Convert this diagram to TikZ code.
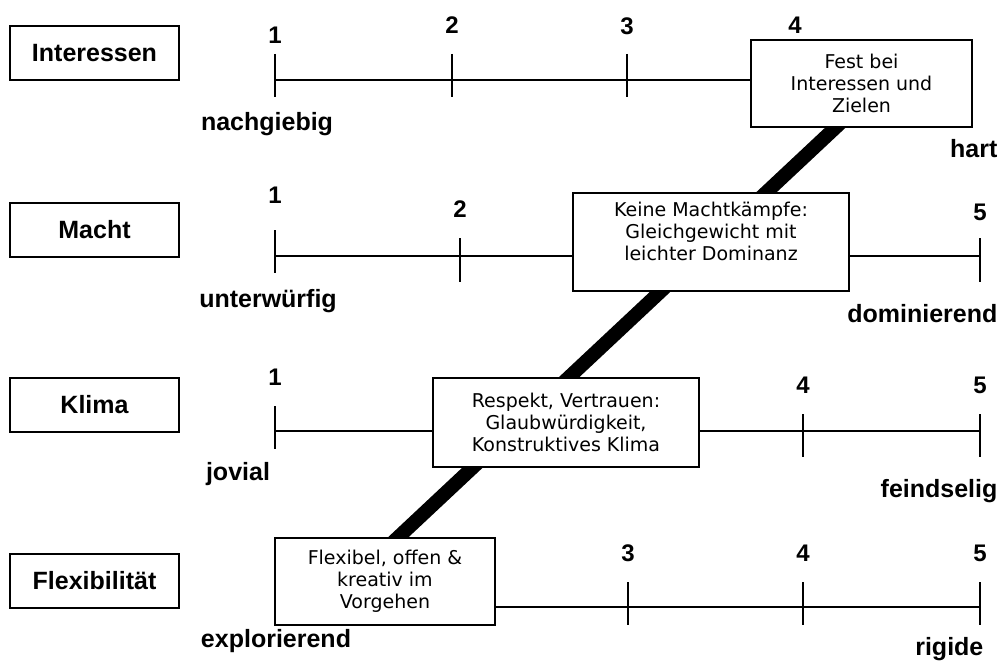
\documentclass[tikz,border=0pt]{standalone}
\usepackage{fontspec}
\setmainfont{Liberation Sans}
\newfontfamily\boxfont{DejaVu Sans}
\usetikzlibrary{backgrounds}
\begin{document}
\begin{tikzpicture}[x=1pt,y=-1pt,line width=2.6pt,
	cat/.style={draw,line width=1.4pt,minimum width=169pt,minimum height=54pt,font=\fontsize{25}{30}\selectfont\bfseries},
	note/.style={draw,fill=white,line width=2.6pt,align=center,inner sep=0pt,font=\boxfont\fontsize{19}{22}\selectfont},
	num/.style={font=\fontsize{24}{28}\selectfont\bfseries},
	pole/.style={font=\fontsize{25}{30}\selectfont\bfseries,anchor=base}]
	\useasboundingbox (0,0) rectangle (1008,661);
	% categories
	\node[cat] (interessen) at (94.5,53) {Interessen};
	\node[cat] (macht) at (94.5,230) {Macht};
	\node[cat] (klima) at (94.5,405) {Klima};
	\node[cat] (flexi) at (94.5,581) {Flexibilität};
	% boxes on the scales
	\node[note,minimum width=221pt,minimum height=87pt] (fest) at (861.5,83.5) {Fest bei\\Interessen und\\Zielen};
	\node[note,minimum width=276pt,minimum height=98pt,text depth=22pt] (keine) at (711,242) {Keine Machtkämpfe:\\Gleichgewicht mit\\leichter Dominanz};
	\node[note,minimum width=266pt,minimum height=89pt] (respekt) at (566,422.5) {Respekt, Vertrauen:\\Glaubwürdigkeit,\\Konstruktives Klima};
	\node[note,minimum width=220pt,minimum height=87pt] (flexibel) at (385,581.5) {Flexibel, offen \&\\kreativ im\\Vorgehen};
	\begin{scope}[on background layer]
		\draw[line width=14pt] ([xshift=21]fest.center) -- ([xshift=-34]flexibel.center);
	\end{scope}
	% Interessen
	\coordinate (i1) at (275,80); \coordinate (i2) at (452,80); \coordinate (i3) at (627,80);
	\draw (i1) -- (i1 -| fest.west);
	\foreach \c in {i1,i2,i3} \draw ([yshift=26]\c) -- ([yshift=-17]\c);
	\node[num] (ni1) at (275,35) {1};
	\node[num] (ni2) at (452,25) {2};
	\node[num] (ni3) at (627,26) {3};
	\node[num] (ni4) at (795,25) {4};
	\node[pole] (nachgiebig) at (267,130) {nachgiebig};
	\node[pole,anchor=base east] (hart) at (1002,157) {hart};
	% Macht
	\coordinate (m1) at (275,256); \coordinate (m2) at (460,256); \coordinate (m5) at (980,256);
	\draw (m1) -- (m1 -| keine.west);
	\draw (keine.east |- m1) -- (m5);
	\draw ([yshift=26]m1) -- ([yshift=-17]m1);
	\foreach \c in {m2,m5} \draw ([yshift=18]\c) -- ([yshift=-26]\c);
	\node[num] (nm1) at (275,195) {1};
	\node[num] (nm2) at (460,209) {2};
	\node[num] (nm5) at (980,212) {5};
	\node[pole] (unterwuerfig) at (268,307) {unterwürfig};
	\node[pole,anchor=base east] (dominierend) at (1002,322) {dominierend};
	% Klima
	\coordinate (k1) at (275,431); \coordinate (k4) at (803,431); \coordinate (k5) at (980,431);
	\draw (k1) -- (k1 -| respekt.west);
	\draw (respekt.east |- k1) -- (k5);
	\draw ([yshift=25]k1) -- ([yshift=-18]k1);
	\foreach \c in {k4,k5} \draw ([yshift=17]\c) -- ([yshift=-26]\c);
	\node[num] (nk1) at (275,377) {1};
	\node[num] (nk4) at (803,385) {4};
	\node[num] (nk5) at (980,385) {5};
	\node[pole] (jovial) at (238,480) {jovial};
	\node[pole,anchor=base east] (feindselig) at (1002,497) {feindselig};
	% Flexibilitaet
	\coordinate (f3) at (628,607); \coordinate (f4) at (803,607); \coordinate (f5) at (980,607);
	\draw (flexibel.east |- f3) -- (f5);
	\foreach \c in {f3,f4,f5} \draw ([yshift=25]\c) -- ([yshift=-18]\c);
	\node[num] (nf3) at (628,553) {3};
	\node[num] (nf4) at (803,553) {4};
	\node[num] (nf5) at (980,553) {5};
	\node[pole] (explorierend) at (276,647) {explorierend};
	\node[pole,anchor=base east] (rigide) at (988,655) {rigide};
\end{tikzpicture}
\end{document}
